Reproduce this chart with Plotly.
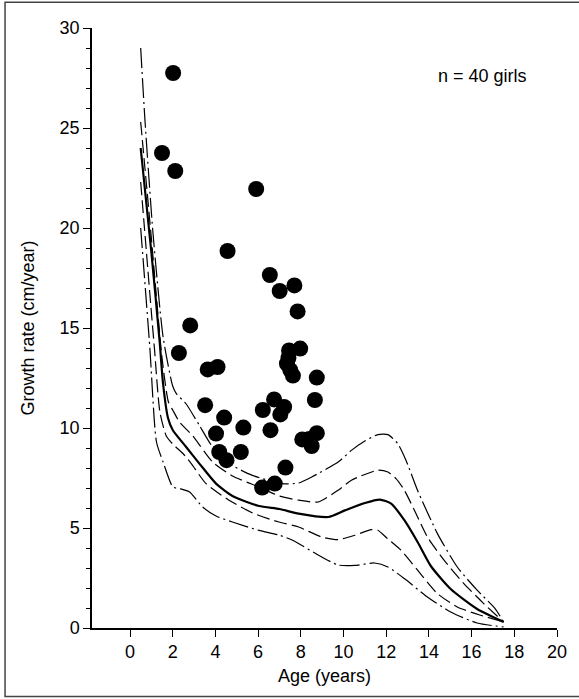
import plotly.graph_objects as go

# ---- data ----
dot_age = [2.02, 1.50, 2.12, 5.91, 4.57, 6.55, 7.01, 7.70, 7.85, 2.82,
           2.29, 3.64, 4.10, 7.45, 7.97, 7.35, 7.51, 7.63, 8.75, 3.52,
           8.66, 6.75, 6.22, 7.22, 7.04, 4.41, 5.31, 6.58, 4.03, 8.07,
           8.75, 8.51, 4.18, 4.52, 5.19, 7.28, 6.19, 6.78, 7.42, 8.40]
dot_rate = [27.75, 23.75, 22.85, 21.95, 18.85, 17.65, 16.85, 17.13, 15.83, 15.13,
            13.75, 12.93, 13.05, 13.88, 13.97, 13.22, 12.89, 12.62, 12.52, 11.14,
            11.40, 11.43, 10.90, 11.05, 10.68, 10.52, 10.02, 9.89, 9.72, 9.43,
            9.74, 9.10, 8.80, 8.39, 8.80, 8.02, 7.02, 7.22, 13.50, 9.45]

u2_age = [0.5, 0.7, 1.08, 1.55, 2.0, 2.17, 2.63, 3.25, 3.87, 4.8, 5.73, 7.12, 7.9, 8.51,
          9.75, 10.37, 11.0, 11.61, 12.08, 12.54, 12.93, 13.47, 14.4, 15.33, 16.26, 17.1, 17.5]
u2_rate = [29.0, 25.4, 19.7, 14.55, 12.1, 11.72, 11.2, 10.13, 9.05, 8.13, 7.63, 7.22, 7.25, 7.55,
           8.3, 8.88, 9.35, 9.67, 9.67, 9.22, 8.38, 6.88, 4.72, 3.05, 1.89, 0.97, 0.3]

u1_age = [0.5, 1.0, 1.5, 1.8, 2.0, 2.32, 2.94, 3.87, 4.8, 6.04, 7.0, 7.9, 8.82, 9.75,
          10.37, 11.61, 12.08, 12.46, 12.85, 13.32, 13.93, 14.71, 15.64, 16.57, 17.5]
u1_rate = [25.3, 19.5, 13.5, 11.3, 10.9, 10.3, 9.6, 8.3, 7.6, 7.05, 6.6, 6.39, 6.3, 6.89,
           7.39, 7.89, 7.8, 7.47, 6.89, 5.89, 4.55, 3.39, 2.22, 1.22, 0.3]

m_age = [0.5, 1.0, 1.39, 1.55, 1.78, 2.0, 2.63, 3.25, 4.03, 4.8, 6.04, 7.0, 7.9, 9.29,
         10.06, 11.0, 11.7, 12.23, 12.85, 13.47, 14.09, 15.02, 16.26, 17.5]
m_rate = [24.0, 18.8, 14.3, 12.2, 10.5, 9.9, 9.05, 8.22, 7.22, 6.6, 6.1, 5.95, 5.72, 5.55,
          5.88, 6.25, 6.42, 6.22, 5.39, 4.3, 3.1, 1.95, 0.95, 0.3]

l1_age = [0.5, 1.0, 1.15, 1.4, 1.7, 2.0, 2.5, 2.87, 3.56, 4.64, 5.81, 6.97, 7.9, 8.98,
          9.75, 10.53, 11.3, 11.61, 12.08, 12.69, 13.47, 14.4, 15.33, 16.41, 17.5]
l1_rate = [22.3, 15.8, 13.9, 10.8, 9.6, 9.2, 8.7, 8.22, 7.22, 6.39, 5.72, 5.3, 5.05, 4.55,
           4.42, 4.64, 4.92, 4.89, 4.45, 3.89, 2.89, 1.72, 1.05, 0.64, 0.3]

l2_age = [0.5, 0.93, 1.24, 1.55, 2.01, 2.32, 2.79, 3.4, 4.03, 4.8, 6.04, 6.97, 7.59, 8.98,
          9.75, 10.53, 11.46, 12.08, 12.85, 13.93, 15.02, 16.26, 17.5]
l2_rate = [20.0, 14.0, 9.3, 8.3, 7.05, 6.97, 6.8, 6.05, 5.6, 5.3, 4.88, 4.65, 4.4, 3.55,
           3.15, 3.13, 3.25, 3.05, 2.47, 1.55, 0.8, 0.25, 0.05]

x_ticks = [0, 2, 4, 6, 8, 10, 12, 14, 16, 18, 20]
y_ticks = [0, 5, 10, 15, 20, 25, 30]

FONT = "Liberation Sans, Arial, Helvetica, sans-serif"
DASHDOT = "20px,4px,2px,4px"
LONGDASH = "13px,5px"

fig = go.Figure()

curves = [
    (u2_age, u2_rate, DASHDOT, 1.2),
    (u1_age, u1_rate, LONGDASH, 1.2),
    (m_age, m_rate, "solid", 2.2),
    (l1_age, l1_rate, LONGDASH, 1.2),
    (l2_age, l2_rate, DASHDOT, 1.2),
]
for xs, ys, dash, w in curves:
    fig.add_trace(go.Scatter(
        x=xs, y=ys, mode="lines",
        line=dict(color="black", width=w, dash=dash, shape="spline", smoothing=0.6),
        showlegend=False, hoverinfo="skip"))

fig.add_trace(go.Scatter(
    x=dot_age, y=dot_rate, mode="markers",
    marker=dict(color="black", size=16, line=dict(width=0)),
    showlegend=False))

fig.add_annotation(x=14.35, y=27.6, xref="x", yref="y", text="n = 40 girls",
                   showarrow=False, xanchor="left", yanchor="middle",
                   font=dict(family=FONT, size=18, color="black"))

# outer frame (right edge falls outside the picture)
fig.add_shape(type="rect", xref="paper", yref="paper",
              x0=-0.187, x1=1.06, y0=-0.114, y1=1.043,
              line=dict(color="#444444", width=1.5), fillcolor="rgba(0,0,0,0)", layer="below")

fig.update_layout(
    width=579, height=699,
    margin=dict(l=92, r=18, t=28, b=71, pad=0),
    paper_bgcolor="white", plot_bgcolor="white",
    font=dict(family=FONT, size=18, color="black"),
    xaxis=dict(
        range=[-1.78, 20], tickvals=x_ticks, ticktext=[str(v) for v in x_ticks],
        ticks="outside", ticklen=7, tickwidth=1.3, tickcolor="black",
        showline=True, linecolor="black", linewidth=1.5,
        showgrid=False, zeroline=False,
        title=dict(text="Age (years)", font=dict(size=18), standoff=8),
        tickfont=dict(size=18),
    ),
    yaxis=dict(
        range=[0, 30], tickvals=y_ticks, ticktext=[str(v) for v in y_ticks],
        ticks="outside", ticklen=7, tickwidth=1.3, tickcolor="black",
        minor=dict(dtick=1, tick0=0, ticks="outside", ticklen=4, tickwidth=1, tickcolor="black"),
        showline=True, linecolor="black", linewidth=1.5,
        showgrid=False, zeroline=False,
        title=dict(text="Growth rate (cm/year)", font=dict(size=18), standoff=20),
        tickfont=dict(size=18),
    ),
)

fig.write_html("out.html")
